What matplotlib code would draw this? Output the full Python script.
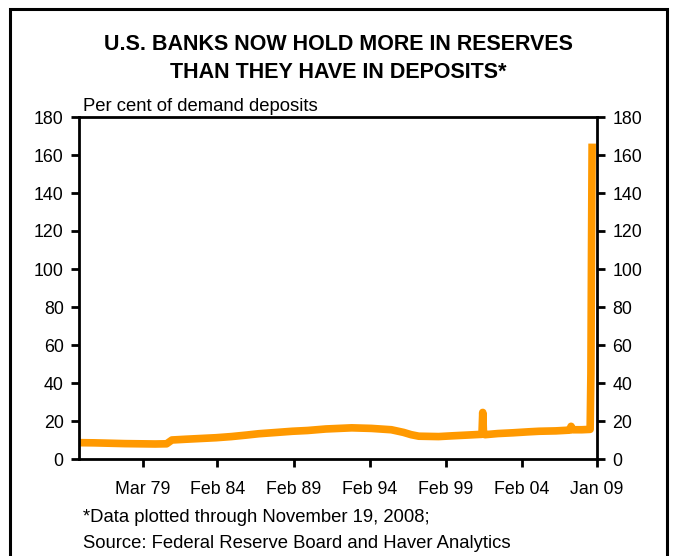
import matplotlib.pyplot as plt
from matplotlib.patches import Rectangle

plt.rcParams['font.family'] = ['Liberation Sans', 'DejaVu Sans']

# decimal years and reserves as per cent of demand deposits
years = [1975.0, 1976.0, 1977.0, 1978.0, 1979.0, 1980.0, 1980.75, 1981.1, 1982.0,
         1983.0, 1984.0, 1985.0, 1986.0, 1986.8, 1988.0, 1989.0, 1990.0, 1991.2,
         1992.9, 1994.2, 1995.5, 1996.3, 1996.8, 1997.3, 1998.6, 1999.5, 2000.5,
         2001.45, 2001.5, 2001.55, 2001.65, 2002.5, 2003.5, 2004.5, 2005.2,
         2006.3, 2007.2, 2007.3, 2007.4, 2008.0, 2008.55, 2008.6, 2008.64, 2008.68]
values = [8.6, 8.5, 8.3, 8.1, 8.0, 7.9, 8.0, 10.0, 10.4,
          10.8, 11.2, 11.8, 12.6, 13.3, 14.0, 14.6, 15.0, 15.8,
          16.4, 16.1, 15.4, 14.0, 12.8, 12.0, 11.8, 12.2, 12.6,
          13.0, 24.5, 13.5, 12.8, 13.4, 13.8, 14.3, 14.6,
          14.8, 15.2, 17.2, 15.4, 15.4, 15.6, 45.0, 110.0, 166.0]

tick_pos = [1979.17, 1984.08, 1989.08, 1994.08, 1999.08, 2004.08, 2009.0]
tick_labels = ['Mar 79', 'Feb 84', 'Feb 89', 'Feb 94', 'Feb 99', 'Feb 04', 'Jan 09']
y_ticks = list(range(0, 181, 20))

fig = plt.figure(figsize=(6.78, 5.56), dpi=100)
fig.patches.append(Rectangle((10 / 678, -0.05), 657 / 678, 1 - 9.5 / 556 + 0.05,
                             transform=fig.transFigure, fill=False,
                             edgecolor='black', linewidth=2.2))

ax = fig.add_axes([79 / 678, 1 - 459 / 556, 518 / 678, 342 / 556])
ax.plot(years, values, color='#FF9900', linewidth=5.5, solid_capstyle='butt')

ax.set_xlim(1975.0, 2009.0)
ax.set_ylim(0, 180)
ax.set_xticks(tick_pos)
ax.set_xticklabels(tick_labels)
ax.set_yticks(y_ticks)
for s in ax.spines.values():
    s.set_linewidth(2)
ax.tick_params(axis='both', direction='out', length=6, width=2, labelsize=12.8,
               right=True, labelright=True, pad=5)
ax.tick_params(axis='x', pad=10)

ax.text(0.008, 1.005, 'Per cent of demand deposits', transform=ax.transAxes,
        fontsize=13.3, ha='left', va='bottom')

fig.text(338 / 678, 1 - 45 / 556, 'U.S. BANKS NOW HOLD MORE IN RESERVES',
         ha='center', va='center', fontsize=15.5, fontweight='bold')
fig.text(338 / 678, 1 - 72 / 556, 'THAN THEY HAVE IN DEPOSITS*',
         ha='center', va='center', fontsize=15.5, fontweight='bold')

fig.text(83 / 678, 1 - 517 / 556, '*Data plotted through November 19, 2008;',
         ha='left', va='center', fontsize=13.3)
fig.text(83 / 678, 1 - 543 / 556, 'Source: Federal Reserve Board and Haver Analytics',
         ha='left', va='center', fontsize=13.3)

fig.savefig('out.png', dpi=100)
